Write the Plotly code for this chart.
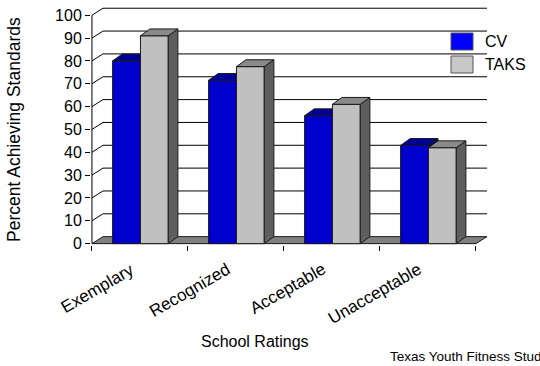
import plotly.graph_objects as go

# ---- data -------------------------------------------------------------
categories = ["Exemplary", "Recognized", "Acceptable", "Unacceptable"]
cv_values = [80, 71.5, 56, 43]
taks_values = [91, 77.5, 61, 42]
y_ticks = list(range(0, 101, 10))
series_names = ["CV", "TAKS"]

# ---- figure geometry --------------------------------------------------
W, H = 540, 366
ML, MR, MT, MB = 91, 53, 7, 121
PW, PH = W - ML - MR, H - MT - MB
X_RANGE = [-0.01, 4.115]
Y_RANGE = [-0.6, 103.6]

# oblique depth of the chart box (walls) and of the bars, in data units
DX, DY = 0.115, 3.06
BDX, BDY = 0.10, 3.0
BAR_W = 0.29
OFFSETS = [0.215, 0.505]

FONT = "Liberation Sans, Arial, sans-serif"
EDGE = "#1a1a1a"

FACE = {
    "CV": {"front": "#0000CC", "top": "#000094", "side": "#00006E"},
    "TAKS": {"front": "#C0C0C0", "top": "#8A8A8A", "side": "#5E5E5E"},
}
LEGEND_FILL = {"CV": "#0000FF", "TAKS": "#C8C8C8"}


def paper_x(p):
    return (p - ML) / PW


def paper_y(p):
    return (H - MB - p) / PH


def polys(rects):
    xs, ys = [], []
    for pts in rects:
        for (x, y) in pts + [pts[0]]:
            xs.append(x)
            ys.append(y)
        xs.append(None)
        ys.append(None)
    return xs, ys


fig = go.Figure()
n = len(categories)

# floor
fx, fy = polys([[(0, 0), (n, 0), (n + DX, DY), (DX, DY)]])
fig.add_trace(go.Scatter(x=fx, y=fy, mode="lines", fill="toself",
                         fillcolor="#808080", line=dict(color=EDGE, width=1),
                         hoverinfo="skip", showlegend=False))

# back-wall gridlines with their diagonal from the value axis
gx, gy = [], []
for v in y_ticks[1:]:
    gx += [0, DX, n + DX, None]
    gy += [v, v + DY, v + DY, None]
fig.add_trace(go.Scatter(x=gx, y=gy, mode="lines",
                         line=dict(color="black", width=1),
                         hoverinfo="skip", showlegend=False))

# value axis line
fig.add_trace(go.Scatter(x=[0, 0], y=[0, y_ticks[-1]], mode="lines",
                         line=dict(color="black", width=1),
                         hoverinfo="skip", showlegend=False))

# 3D columns: front, side and top faces for each series
for name, vals, off in zip(series_names, [cv_values, taks_values], OFFSETS):
    fronts, sides, tops = [], [], []
    for i, v in enumerate(vals):
        x0 = i + off
        x1 = x0 + BAR_W
        fronts.append([(x0, 0), (x1, 0), (x1, v), (x0, v)])
        sides.append([(x1, 0), (x1 + BDX, BDY), (x1 + BDX, v + BDY), (x1, v)])
        tops.append([(x0, v), (x1, v), (x1 + BDX, v + BDY), (x0 + BDX, v + BDY)])
    for face, rects in (("front", fronts), ("side", sides), ("top", tops)):
        px_, py_ = polys(rects)
        fig.add_trace(go.Scatter(x=px_, y=py_, mode="lines", fill="toself",
                                 fillcolor=FACE[name][face],
                                 line=dict(color=EDGE, width=1),
                                 hoverinfo="skip", showlegend=False))

shapes = []
annotations = []

# slanted category labels under each group
for i, cat in enumerate(categories):
    annotations.append(dict(text=cat, xref="x", yref="paper", x=i + 0.5,
                            xshift=0, y=paper_y(257), xanchor="right",
                            yanchor="top", textangle=-30, showarrow=False,
                            font=dict(family=FONT, size=17, color="black")))

# legend drawn as swatches + labels
for k, name in enumerate(series_names):
    top = 33 + 23 * k
    shapes.append(dict(type="rect", xref="paper", yref="paper",
                       x0=paper_x(451), x1=paper_x(473),
                       y0=paper_y(top + 17), y1=paper_y(top),
                       fillcolor=LEGEND_FILL[name],
                       line=dict(color="#555555", width=1)))
    annotations.append(dict(text=name, xref="paper", yref="paper",
                            x=paper_x(483), y=paper_y(top + 8.5),
                            xanchor="left", yanchor="middle", showarrow=False,
                            font=dict(family=FONT, size=16, color="black")))

annotations.append(dict(text="Percent Achieving Standards", xref="paper",
                        yref="paper", x=paper_x(14), y=paper_y(130),
                        xanchor="center", yanchor="middle", textangle=-90,
                        showarrow=False,
                        font=dict(family=FONT, size=17.5, color="black")))
annotations.append(dict(text="School Ratings", xref="paper", yref="paper",
                        x=paper_x(255), y=paper_y(341), xanchor="center",
                        yanchor="middle", showarrow=False,
                        font=dict(family=FONT, size=16, color="black")))
annotations.append(dict(text="Texas Youth Fitness Study", xref="paper",
                        yref="paper", x=paper_x(388), y=paper_y(356),
                        xanchor="left", yanchor="middle", showarrow=False,
                        font=dict(family=FONT, size=13.5, color="black")))

fig.update_layout(
    width=W, height=H,
    margin=dict(l=ML, r=MR, t=MT, b=MB, pad=0),
    paper_bgcolor="white", plot_bgcolor="white",
    showlegend=False,
    shapes=shapes, annotations=annotations,
    font=dict(family=FONT, color="black"),
    xaxis=dict(range=X_RANGE, showgrid=False, zeroline=False, showline=False,
               showticklabels=False, ticks="",
               minor=dict(tickmode="array", tickvals=list(range(n + 1)),
                          ticks="outside", ticklen=5, tickcolor="black",
                          tickwidth=1, showgrid=False),
               fixedrange=True),
    yaxis=dict(range=Y_RANGE, showgrid=False, zeroline=False, showline=False,
               tickmode="array", tickvals=y_ticks,
               ticktext=[str(t) for t in y_ticks],
               ticks="outside", ticklen=5, tickcolor="black", tickwidth=1,
               tickfont=dict(family=FONT, size=16, color="black"),
               fixedrange=True),
)

fig.write_html("out.html")
